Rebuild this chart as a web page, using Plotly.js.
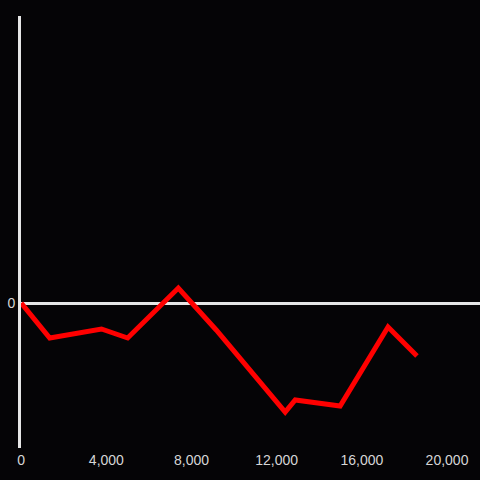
<!DOCTYPE html>
<html>
<head>
<meta charset="utf-8">
<script src="https://cdn.plot.ly/plotly-3.0.1.min.js"></script>
<style>html,body{margin:0;padding:0;background:#050406;}#chart{width:480px;height:480px;}</style>
</head>
<body>
<div id="chart"></div>
<script>
const xValues = [0, 1340, 3770, 5000, 7380, 9160, 12400, 12870, 14980, 17230, 18590];
const yValues = [0, -35, -26, -35, 15, -27, -109, -97, -103, -24, -53];
const xTickVals = [0, 4000, 8000, 12000, 16000, 20000];
const xTickText = ['0', '4,000', '8,000', '12,000', '16,000', '20,000'];
const yTickVals = [0];
const yTickText = ['0'];

const trace = {
  x: xValues, y: yValues, type: 'scatter', mode: 'lines',
  line: {color: '#ff0000', width: 5}, hoverinfo: 'none'
};
const layout = {
  width: 480, height: 480,
  paper_bgcolor: '#050406', plot_bgcolor: '#050406',
  margin: {l: 21, r: 0, t: 16, b: 32},
  showlegend: false,
  font: {family: 'Liberation Sans, Arial, sans-serif', size: 14, color: '#d6d6d6'},
  xaxis: {
    range: [-10, 21550], showgrid: false, zeroline: false, showline: false,
    tickvals: xTickVals, ticktext: xTickText, ticks: '', ticklabelstandoff: 2,
    tickfont: {size: 14, color: '#d6d6d6'}
  },
  yaxis: {
    range: [-145, 287], showgrid: false, zeroline: true, zerolinecolor: '#e6e6e6', zerolinewidth: 3,
    showline: true, linecolor: '#e6e6e6', linewidth: 3,
    tickvals: yTickVals, ticktext: yTickText, ticks: '',
    tickfont: {size: 14, color: '#d6d6d6'}
  }
};
Plotly.newPlot('chart', [trace], layout, {displayModeBar: false, staticPlot: true});
</script>
</body>
</html>
